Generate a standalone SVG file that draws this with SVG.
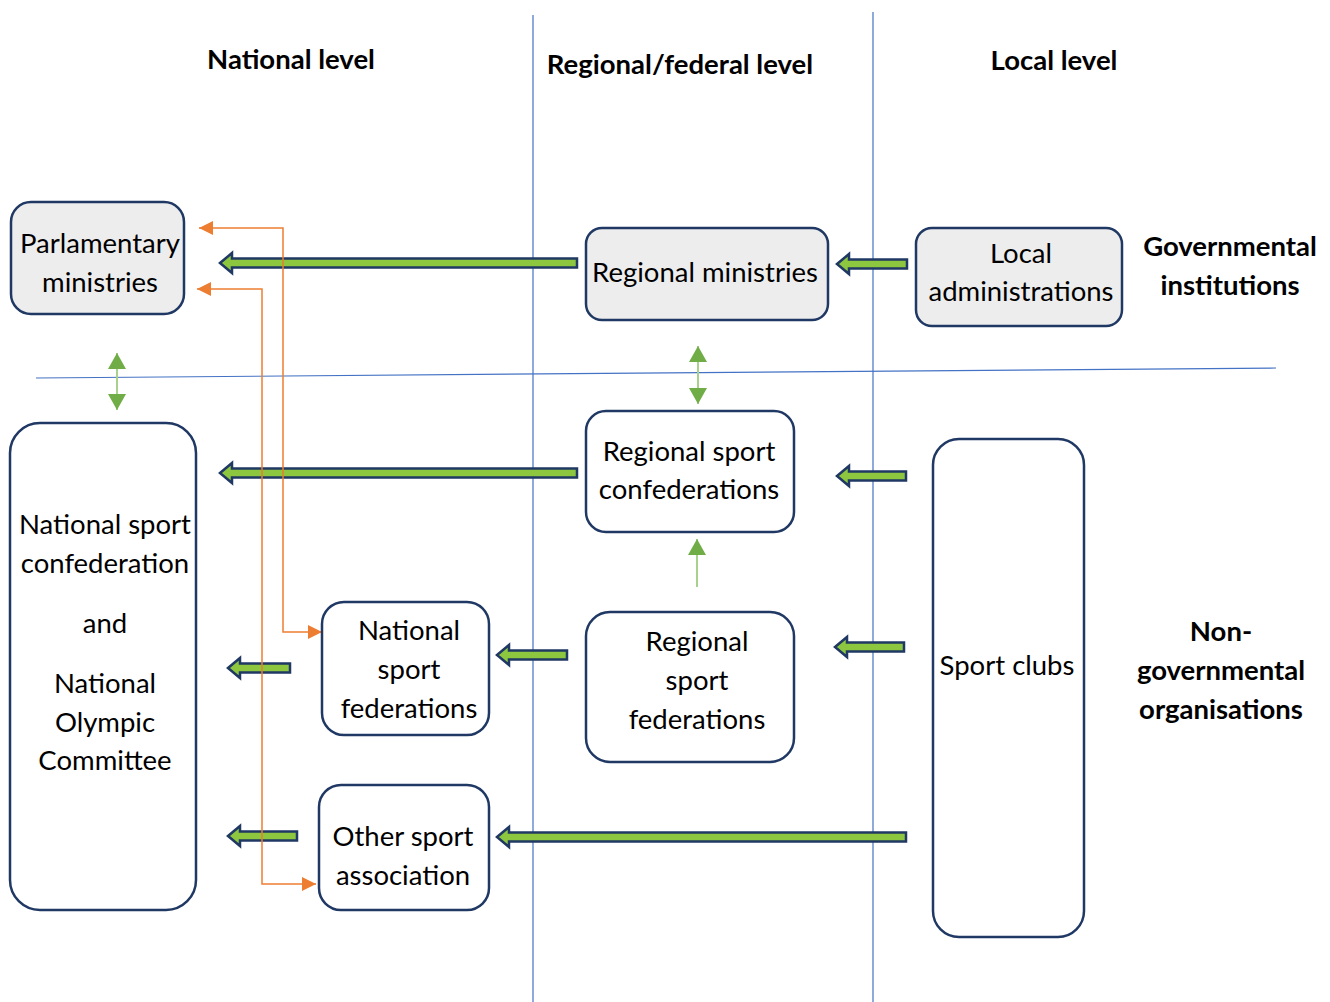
<svg xmlns="http://www.w3.org/2000/svg" width="1330" height="1002" viewBox="0 0 1330 1002">
  <defs>
    <style>
      .t { font-family: Lato, "Open Sans", "Liberation Sans", sans-serif; font-size: 27.5px; fill: #000; text-anchor: middle; }
      .h { font-family: Lato, "Open Sans", "Liberation Sans", sans-serif; font-size: 27.5px; font-weight: bold; fill: #000; text-anchor: middle; }
      .box { stroke: #1F3864; stroke-width: 2.5; }
      .gov { fill: #EDEDED; }
      .ngo { fill: #FFFFFF; }
      .sep { stroke: #4472C4; stroke-width: 1.2; fill: none; }
      .blk { fill: #8DC63F; stroke: #1F3864; stroke-width: 2.5; stroke-linejoin: miter; }
      .thin { stroke: #A9D18E; stroke-width: 2; fill: none; }
      .org { stroke: #ED7D31; stroke-width: 1.5; fill: none; }
    </style>
    <marker id="og" viewBox="0 0 14 14" refX="14" refY="7" markerWidth="14" markerHeight="14" markerUnits="userSpaceOnUse" orient="auto-start-reverse">
      <path d="M0,0 L14,7 L0,14 Z" fill="#ED7D31"/>
    </marker>
    <marker id="gh" viewBox="0 0 16 18" refX="16" refY="9" markerWidth="16" markerHeight="18" markerUnits="userSpaceOnUse" orient="auto-start-reverse">
      <path d="M0,0 L16,9 L0,18 Z" fill="#70AD47"/>
    </marker>
  </defs>

  <rect width="1330" height="1002" fill="#FFFFFF"/>

  <!-- level separators -->
  <g id="separators">
    <line class="sep" x1="533" y1="15" x2="533" y2="1002"/>
    <line class="sep" x1="873" y1="12" x2="873" y2="1002"/>
    <line class="sep" x1="36" y1="378" x2="1276" y2="368"/>
  </g>

  <!-- column and row headings -->
  <g id="headings">
    <text class="h" x="291" y="69">National level</text>
    <text class="h" x="680" y="74">Regional/federal level</text>
    <text class="h" x="1054" y="70">Local level</text>
    <text class="h" x="1230" y="256">Governmental</text>
    <text class="h" x="1230" y="295">institutions</text>
    <text class="h" x="1221" y="641">Non-</text>
    <text class="h" x="1221" y="680">governmental</text>
    <text class="h" x="1221" y="719">organisations</text>
  </g>

  <!-- connectors -->
  <g id="connectors">
    <!-- block arrows -->
    <path class="blk" d="M220,263 L232,253 L232,258.5 L577,258.5 L577,267.5 L232,267.5 L232,273 Z"/>
    <path class="blk" d="M837,264 L849,254 L849,259.5 L907,259.5 L907,268.5 L849,268.5 L849,274 Z"/>
    <path class="blk" d="M220,473 L232,463 L232,468.5 L577,468.5 L577,477.5 L232,477.5 L232,483 Z"/>
    <path class="blk" d="M837,476 L849,466 L849,471.5 L906,471.5 L906,480.5 L849,480.5 L849,486 Z"/>
    <path class="blk" d="M228,668 L240,658 L240,663.5 L290,663.5 L290,672.5 L240,672.5 L240,678 Z"/>
    <path class="blk" d="M497,655 L509,645 L509,650.5 L567,650.5 L567,659.5 L509,659.5 L509,665 Z"/>
    <path class="blk" d="M835,647 L847,637 L847,642.5 L904,642.5 L904,651.5 L847,651.5 L847,657 Z"/>
    <path class="blk" d="M228,836 L240,826 L240,831.5 L297,831.5 L297,840.5 L240,840.5 L240,846 Z"/>
    <path class="blk" d="M497,837 L509,827 L509,832.5 L906,832.5 L906,841.5 L509,841.5 L509,847 Z"/>
    <!-- thin green arrows -->
    <line class="thin" x1="117" y1="353" x2="117" y2="410" marker-start="url(#gh)" marker-end="url(#gh)"/>
    <line class="thin" x1="698" y1="346" x2="698" y2="404" marker-start="url(#gh)" marker-end="url(#gh)"/>
    <line class="thin" x1="697" y1="587" x2="697" y2="539" marker-end="url(#gh)"/>
    <!-- orange links -->
    <polyline class="org" points="199,228 283,228 283,632 322,632" marker-start="url(#og)" marker-end="url(#og)"/>
    <polyline class="org" points="197,289 262,289 262,884 316,884" marker-start="url(#og)" marker-end="url(#og)"/>
  </g>

  <!-- nodes -->
  <g id="parlamentary-ministries">
    <rect class="box gov" x="11" y="202" width="173" height="112" rx="20"/>
    <text class="t" x="100" y="253">Parlamentary</text>
    <text class="t" x="100" y="292">ministries</text>
  </g>
  <g id="regional-ministries">
    <rect class="box gov" x="586" y="228" width="242" height="92" rx="16"/>
    <text class="t" x="705" y="282">Regional ministries</text>
  </g>
  <g id="local-administrations">
    <rect class="box gov" x="916" y="228" width="206" height="98" rx="16"/>
    <text class="t" x="1021" y="263">Local</text>
    <text class="t" x="1021" y="301">administrations</text>
  </g>
  <g id="national-confederation">
    <rect class="box ngo" x="10" y="423" width="186" height="487" rx="30"/>
    <text class="t" x="105" y="534">National sport</text>
    <text class="t" x="105" y="573">confederation</text>
    <text class="t" x="105" y="633">and</text>
    <text class="t" x="105" y="693">National</text>
    <text class="t" x="105" y="732">Olympic</text>
    <text class="t" x="105" y="770">Committee</text>
  </g>
  <g id="regional-confederations">
    <rect class="box ngo" x="586" y="411" width="208" height="121" rx="20"/>
    <text class="t" x="689" y="461">Regional sport</text>
    <text class="t" x="689" y="499">confederations</text>
  </g>
  <g id="national-federations">
    <rect class="box ngo" x="322" y="602" width="167" height="133" rx="22"/>
    <text class="t" x="409" y="640">National</text>
    <text class="t" x="409" y="679">sport</text>
    <text class="t" x="409" y="718">federations</text>
  </g>
  <g id="regional-federations">
    <rect class="box ngo" x="586" y="612" width="208" height="150" rx="24"/>
    <text class="t" x="697" y="651">Regional</text>
    <text class="t" x="697" y="690">sport</text>
    <text class="t" x="697" y="729">federations</text>
  </g>
  <g id="other-association">
    <rect class="box ngo" x="319" y="785" width="170" height="125" rx="22"/>
    <text class="t" x="403" y="846">Other sport</text>
    <text class="t" x="403" y="885">association</text>
  </g>
  <g id="sport-clubs">
    <rect class="box ngo" x="933" y="439" width="151" height="498" rx="26"/>
    <text class="t" x="1007" y="675">Sport clubs</text>
  </g>
</svg>
